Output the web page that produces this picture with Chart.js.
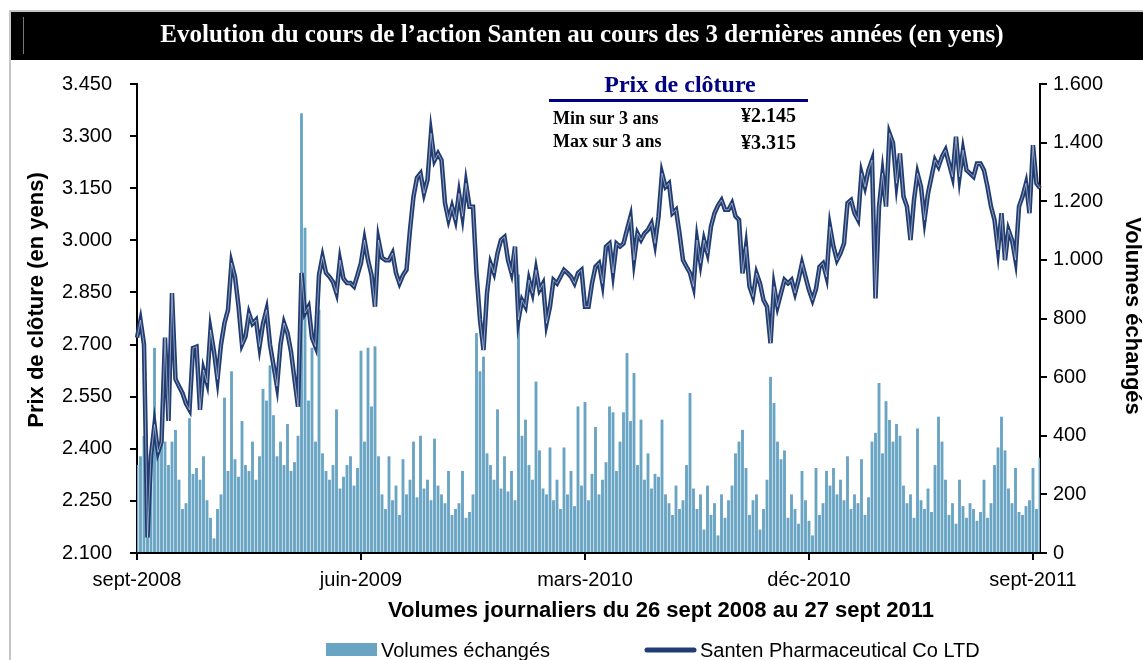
<!DOCTYPE html>
<html lang="fr">
<head>
<meta charset="utf-8">
<title>Santen - cours de l'action</title>
<script src="https://cdn.jsdelivr.net/npm/chart.js@4.4.1/dist/chart.umd.min.js"></script>
<style>
html, body { margin: 0; padding: 0; background: #fff; }
#wrap { width: 1143px; height: 660px; }
</style>
</head>
<body>
<div id="wrap"><canvas id="santenChart" width="1143" height="660"></canvas></div>
<script>
// cours de cloture (yens), un point tous les 3 jours de bourse environ
const prices = [
    2720, 2770, 2700, 2145, 2380, 2470, 2390, 2420, 2720, 2480,
    2848, 2600, 2580, 2560, 2530, 2512, 2690, 2694, 2512, 2627,
    2590, 2742, 2680, 2600, 2700, 2762, 2800, 2935, 2895, 2810,
    2700, 2723, 2790, 2760, 2771, 2694, 2760, 2800, 2700, 2640,
    2580, 2700, 2762, 2733, 2680, 2600, 2521, 2906, 2791, 2809,
    2720, 2694, 2900, 2953, 2906, 2895, 2880, 2848, 2943, 2890,
    2877, 2877, 2867, 2900, 2935, 3001, 2943, 2900, 2809, 3001,
    2950, 2943, 2943, 2963, 2906, 2876, 2900, 2915, 3030, 3126,
    3180, 3193, 3135, 3174, 3308, 3230, 3250, 3231, 3107, 3059,
    3097, 3059, 3135, 3069, 3164, 3097, 3097, 2905, 2771, 2684,
    2848, 2934, 2906, 2963, 3001, 3010, 2943, 2906, 2982, 2771,
    2828, 2809, 2886, 2848, 2915, 2857, 2876, 2761, 2809, 2886,
    2876, 2895, 2915, 2906, 2895, 2876, 2906, 2915, 2809, 2809,
    2876, 2924, 2934, 2876, 2982, 2991, 2906, 2991, 2982, 2991,
    3030, 3068, 2943, 3020, 3001, 3020, 3030, 3049, 2991, 3068,
    3193, 3154, 3164, 3078, 3088, 3020, 2943, 2924, 2906, 2867,
    3001, 2934, 3001, 2963, 3040, 3078, 3100, 3116, 3088, 3088,
    3107, 3069, 3059, 2905, 2982, 2867, 2838, 2905, 2876, 2828,
    2809, 2704, 2867, 2809, 2848, 2886, 2876, 2886, 2848, 2886,
    2934, 2895, 2857, 2828, 2860, 2924, 2934, 2895, 3039, 2982,
    2943, 2963, 2991, 3107, 3116, 3078, 3059, 3193, 3154, 3202,
    3231, 2833, 3097, 3193, 3097, 3308, 3280, 3164, 3250, 3126,
    3097, 3001, 3116, 3193, 3154, 3059, 3135, 3183, 3231, 3212,
    3241, 3260, 3221, 3183, 3298, 3183, 3260, 3202, 3193, 3183,
    3221, 3221, 3202, 3154, 3097, 3059, 2972, 3078, 2943, 3030,
    3001, 2943, 3097, 3126, 3164, 3078, 3274, 3164, 3150
];

// volumes echanges (milliers)
const volumes = [
    300, 330, 400, 290, 310, 700, 360, 420, 380, 300,
    380, 420, 250, 150, 170, 460, 270, 290, 250, 330,
    180, 120, 50, 150, 200, 530, 280, 620, 320, 260,
    450, 300, 280, 380, 250, 330, 560, 520, 640, 470,
    330, 380, 300, 440, 280, 310, 400, 1500, 1110, 520,
    700, 380, 830, 340, 280, 250, 300, 490, 220, 260,
    300, 330, 230, 290, 690, 380, 700, 500, 705, 330,
    200, 150, 330, 180, 230, 130, 320, 200, 250, 380,
    190, 400, 220, 250, 180, 390, 230, 200, 170, 280,
    130, 150, 170, 280, 120, 140, 200, 750, 620, 670,
    340, 300, 250, 490, 220, 330, 210, 280, 180, 950,
    400, 455, 300, 250, 585, 350, 220, 200, 360, 180,
    250, 150, 360, 200, 280, 160, 500, 230, 515, 180,
    270, 430, 200, 250, 310, 500, 480, 280, 380, 480,
    682, 450, 614, 300, 455, 250, 340, 220, 270, 260,
    455, 200, 170, 130, 230, 150, 180, 300, 546, 220,
    150, 200, 80, 230, 130, 170, 60, 200, 120, 180,
    230, 340, 380, 420, 290, 130, 180, 200, 80, 150,
    250, 601, 512, 380, 320, 350, 120, 200, 150, 100,
    280, 180, 110, 60, 290, 130, 170, 280, 230, 290,
    200, 250, 180, 330, 150, 200, 170, 320, 130, 190,
    380, 410, 580, 340, 518, 454, 380, 440, 400, 230,
    170, 200, 120, 425, 180, 150, 220, 140, 300, 465,
    380, 250, 130, 170, 100, 250, 160, 120, 170, 150,
    110, 140, 250, 120, 170, 300, 360, 465, 350, 220,
    170, 290, 140, 130, 160, 180, 290, 150, 325
];

const tickDates = ['sept-2008', 'juin-2009', 'mars-2010', 'déc-2010', 'sept-2011'];
const tickEvery = 64;
const priceTicks = [2100, 3450, 150];
const volumeTicks = [0, 1600, 200];

const labels = prices.map((p, i) => i % tickEvery === 0 ? tickDates[i / tickEvery] : '');

const NAVY = '#203c72';
const BARS = '#6aa4c3';
const SANS = '"Liberation Sans", Arial, sans-serif';
const SERIF = '"Liberation Serif", "Times New Roman", serif';

function frNumber(v) {
    return v >= 1000 ? (v / 1000).toFixed(3) : String(v);
}

const decor = {
    id: 'decor',
    beforeDraw(chart) {
        const ctx = chart.ctx;
        ctx.save();
        ctx.fillStyle = '#fff';
        ctx.fillRect(0, 0, chart.width, chart.height);
        // cadre gris
        ctx.strokeStyle = '#c6c6c6';
        ctx.lineWidth = 2;
        ctx.beginPath();
        ctx.moveTo(10, 660);
        ctx.lineTo(10, 11);
        ctx.lineTo(1143, 11);
        ctx.stroke();
        // bandeau titre
        ctx.fillStyle = '#000';
        ctx.fillRect(11, 12, 1132, 48);
        ctx.strokeStyle = '#777';
        ctx.lineWidth = 1;
        ctx.beginPath();
        ctx.moveTo(23.5, 17);
        ctx.lineTo(23.5, 54);
        ctx.stroke();
        ctx.fillStyle = '#fff';
        ctx.font = 'bold 25px ' + SERIF;
        ctx.textAlign = 'center';
        ctx.textBaseline = 'alphabetic';
        ctx.fillText('Evolution du cours de l\u2019action Santen au cours des 3 dernières années (en yens)', 582, 42, 845);
        ctx.restore();
    },
    afterDraw(chart) {
        const ctx = chart.ctx;
        ctx.save();
        // titres des axes
        ctx.fillStyle = '#000';
        ctx.font = 'bold 22px ' + SANS;
        ctx.textAlign = 'center';
        ctx.textBaseline = 'middle';
        ctx.save();
        ctx.translate(37, 300);
        ctx.rotate(-Math.PI / 2);
        ctx.fillText('Prix de clôture (en yens)', 0, 0);
        ctx.restore();
        ctx.save();
        ctx.translate(1132, 316);
        ctx.rotate(Math.PI / 2);
        ctx.fillText('Volumes échangés', 0, 0);
        ctx.restore();
        ctx.fillText('Volumes journaliers du 26 sept 2008 au 27 sept 2011', 661, 611);

        // encadre prix de cloture
        ctx.fillStyle = '#000080';
        ctx.font = 'bold 24px ' + SERIF;
        ctx.textBaseline = 'alphabetic';
        ctx.fillText('Prix de clôture', 680, 92, 160);
        ctx.strokeStyle = '#000080';
        ctx.lineWidth = 3;
        ctx.beginPath();
        ctx.moveTo(549, 100.5);
        ctx.lineTo(808, 100.5);
        ctx.stroke();
        ctx.fillStyle = '#000';
        ctx.font = 'bold 18px ' + SERIF;
        ctx.textAlign = 'left';
        ctx.fillText('Min sur 3 ans', 553, 124);
        ctx.fillText('Max sur 3 ans', 553, 147);
        ctx.font = 'bold 20px ' + SERIF;
        ctx.fillText('\u00a52.145', 741, 122);
        ctx.fillText('\u00a53.315', 741, 149);

        // legende
        const ds = chart.data.datasets;
        const bar = ds.find(d => d.type === 'bar');
        const line = ds.find(d => d.label === 'Santen Pharmaceutical Co LTD');
        ctx.font = '20px ' + SANS;
        ctx.textBaseline = 'middle';
        ctx.fillStyle = bar.backgroundColor;
        ctx.fillRect(326, 643, 51, 13);
        ctx.fillStyle = '#000';
        ctx.fillText(bar.label, 381, 651);
        ctx.strokeStyle = line.borderColor;
        ctx.lineWidth = 5;
        ctx.lineCap = 'round';
        ctx.beginPath();
        ctx.moveTo(647, 650);
        ctx.lineTo(694, 650);
        ctx.stroke();
        ctx.fillText(line.label, 700, 651);
        ctx.restore();
    }
};

const ctx = document.getElementById('santenChart').getContext('2d');
new Chart(ctx, {
    type: 'bar',
    data: {
        labels: labels,
        datasets: [{
            type: 'line',
            label: 'reflet',
            data: prices,
            yAxisID: 'y',
            borderColor: 'rgba(255,255,255,0.5)',
            borderWidth: 1,
            pointRadius: 0,
            tension: 0,
            order: 0
        }, {
            type: 'line',
            label: 'Santen Pharmaceutical Co LTD',
            data: prices,
            yAxisID: 'y',
            borderColor: NAVY,
            borderWidth: 4.5,
            pointRadius: 0,
            tension: 0,
            order: 1
        }, {
            type: 'bar',
            label: 'Volumes échangés',
            data: volumes,
            yAxisID: 'y1',
            backgroundColor: BARS,
            barPercentage: 0.82,
            categoryPercentage: 1.0,
            order: 2
        }]
    },
    options: {
        responsive: false,
        animation: false,
        layout: { padding: { left: 0, right: 0, top: 84, bottom: 57 } },
        plugins: {
            legend: { display: false },
            title: { display: false },
            tooltip: { enabled: false }
        },
        scales: {
            x: {
                offset: false,
                grid: { offset: false, drawOnChartArea: false, drawTicks: true, tickLength: 7, color: '#000', lineWidth: 2 },
                border: { color: '#000', width: 2 },
                ticks: {
                    autoSkip: false,
                    maxRotation: 0,
                    padding: 8,
                    color: '#000',
                    font: { family: SANS, size: 20 },
                    callback: function (val, idx) {
                        return idx % tickEvery === 0 ? tickDates[idx / tickEvery] : null;
                    }
                },
                afterFit: function (scale) { scale.height = 50; }
            },
            y: {
                position: 'left',
                min: priceTicks[0],
                max: priceTicks[1],
                grid: { drawOnChartArea: false, drawTicks: true, tickLength: 7, color: '#000', lineWidth: 2 },
                border: { color: '#000', width: 2 },
                ticks: {
                    stepSize: priceTicks[2],
                    padding: 18,
                    color: '#000',
                    font: { family: SANS, size: 20 },
                    callback: v => frNumber(v)
                },
                afterFit: function (scale) { scale.width = 137; }
            },
            y1: {
                position: 'right',
                min: volumeTicks[0],
                max: volumeTicks[1],
                grid: { drawOnChartArea: false, drawTicks: true, tickLength: 7, color: '#000', lineWidth: 2 },
                border: { color: '#000', width: 2 },
                ticks: {
                    stepSize: volumeTicks[2],
                    padding: 6,
                    color: '#000',
                    font: { family: SANS, size: 20 },
                    callback: v => frNumber(v)
                },
                afterFit: function (scale) { scale.width = 103; }
            }
        }
    },
    plugins: [decor]
});
</script>
</body>
</html>
